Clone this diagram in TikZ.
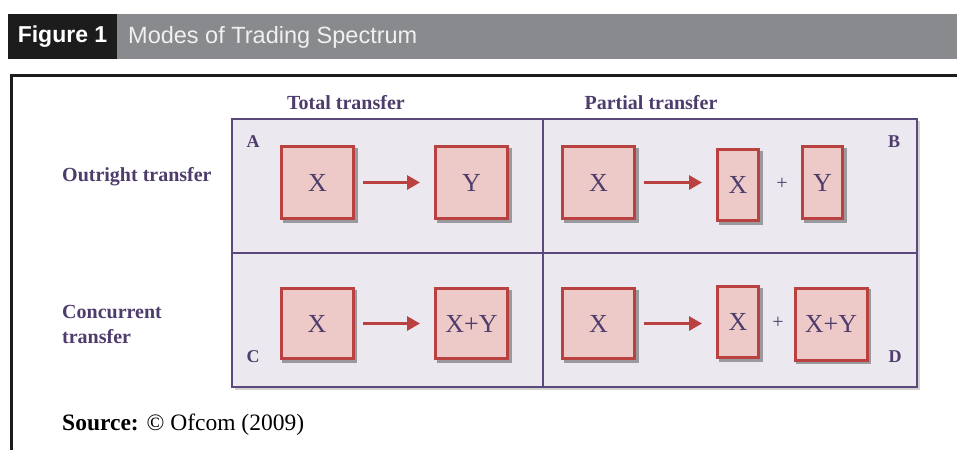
\documentclass[tikz,border=0pt]{standalone}
\usepackage{fontspec}
\setmainfont{Liberation Serif}
\newfontfamily\hfont{Liberation Sans}
\usetikzlibrary{arrows.meta}
\definecolor{gridfill}{HTML}{ECE8F0}
\definecolor{gridline}{HTML}{5A497A}
\definecolor{purpletext}{HTML}{4E3D6C}
\definecolor{boxfill}{HTML}{EDC9C8}
\definecolor{boxline}{HTML}{B9413F}
\definecolor{titlegray}{HTML}{898A8E}
\definecolor{titleblack}{HTML}{1C1C1C}
\definecolor{shadowgray}{HTML}{9A9A9E}
\tikzset{
  cell/.style={draw=gridline, line width=2pt, fill=gridfill, minimum width=311pt, minimum height=134pt, inner sep=0pt},
  tbox/.style={draw=boxline, line width=3pt, fill=boxfill, inner sep=0pt, text=purpletext,
    font=\fontsize{26}{28}\selectfont, minimum height=72pt},
  sq/.style={tbox, minimum width=72pt},
  narrow/.style={tbox, minimum width=41pt},
  shadowed/.style={preaction={fill=shadowgray, draw=shadowgray, line width=3pt, transform canvas={xshift=2.5pt, yshift=-2.5pt}}},
  flow/.style={draw=boxline, line width=3pt, -{Triangle[length=13pt,width=14pt]}, shorten <=8pt, shorten >=14pt},
  lbl/.style={text=purpletext, font=\fontsize{20}{25}\selectfont\bfseries, inner sep=0pt},
  corner/.style={text=purpletext, font=\fontsize{18}{20}\selectfont\bfseries, inner sep=0pt},
  plus/.style={text=purpletext, font=\fontsize{20}{22}\selectfont, inner sep=0pt}
}
\begin{document}
\begin{tikzpicture}[x=1pt, y=-1pt]
\useasboundingbox (0,0) rectangle (957,450);
% title bar
\fill[titlegray] (117,14) rectangle (957,59);
\node[fill=titleblack, minimum width=109pt, minimum height=45pt, inner sep=0pt, text=white,
  font=\hfont\bfseries\fontsize{23}{26}\selectfont] (figlabel) at (62.5,36.5) {Figure 1};
\node[anchor=west, inner sep=0pt, text=white!94!black, font=\hfont\fontsize{23.5}{26}\selectfont] (figtitle) at (128,37) {Modes of Trading Spectrum};
% frame
\draw[titleblack, line width=3pt] (10,75.5) -- (957,75.5);
\draw[titleblack, line width=3pt] (11.5,74) -- (11.5,450);
% grid shadow
\fill[shadowgray!45] (235,121) rectangle (920,389.5);
% cells
\node[cell] (cA) at (387.5,185.5) {};
\node[cell, minimum width=374pt] (cB) at (730,185.5) {};
\node[cell] (cC) at (387.5,319.5) {};
\node[cell, minimum width=374pt] (cD) at (730,319.5) {};
% headers
\node[lbl] (hTotal) at (346,103) {Total transfer};
\node[lbl] (hPartial) at (651,103) {Partial transfer};
\node[lbl, anchor=west] (rOut) at (62,177) {Outright transfer};
\node[lbl, anchor=west, align=left] (rConc) at (62,324.5) {Concurrent\\transfer};
% corner letters
\node[corner] (lA) at (253,142) {A};
\node[corner] (lB) at (894,142) {B};
\node[corner] (lC) at (253,357) {C};
\node[corner] (lD) at (895,357) {D};
% A
\node[sq, shadowed] (aX) at (317.5,182.5) {X};
\node[sq, shadowed] (aY) at (471.5,182.5) {Y};
\draw[flow] (aX) -- (aY);
% B
\node[sq, shadowed] (bX) at (598.5,182.5) {X};
\node[narrow, shadowed, minimum height=71pt] (bX2) at (738,185) {X};
\node[plus] (bPlus) at (782,184) {+};
\node[narrow, shadowed, minimum width=40pt] (bY) at (822.5,182.5) {Y};
\draw[flow] (bX) -- (bX2.west |- bX);
% C
\node[sq, shadowed, minimum height=70pt] (cX) at (317,323.5) {X};
\node[sq, shadowed, minimum height=70pt] (cXY) at (471.5,323.5) {X+Y};
\draw[flow] (cX) -- (cXY);
% D
\node[sq, shadowed, minimum height=70pt] (dX) at (598.5,323.5) {X};
\node[narrow, shadowed, minimum height=71pt] (dX2) at (738,322) {X};
\node[plus] (dPlus) at (778,323) {+};
\node[sq, shadowed] (dXY) at (831,324) {X+Y};
\draw[flow] (dX) -- (dX2.west |- dX);
% source
\node[anchor=west, inner sep=0pt, font=\fontsize{23.5}{26}\selectfont] (src) at (62,425) {\textbf{Source:} © Ofcom (2009)};
\end{tikzpicture}
\end{document}
